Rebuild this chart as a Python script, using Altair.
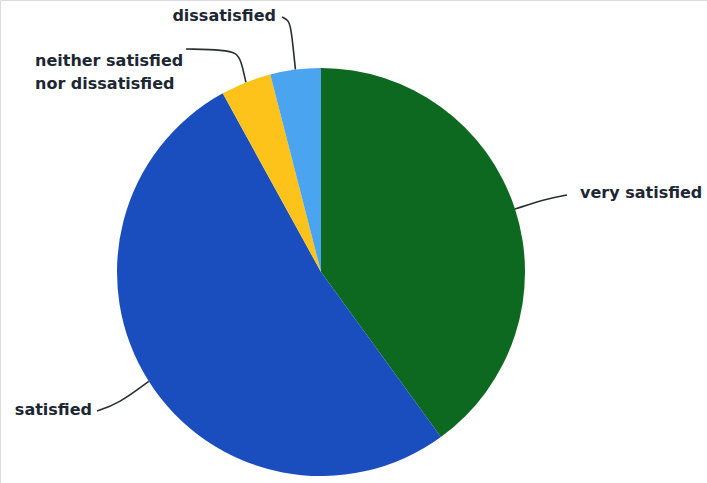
import math

import altair as alt
import pandas as pd

# Survey answers, clockwise from 12 o'clock
categories = [
    "very satisfied",
    "satisfied",
    "neither satisfied nor dissatisfied",
    "dissatisfied",
]
shares = [40, 52, 4, 4]
labels = ["very satisfied", "satisfied", "neither satisfied\nnor dissatisfied", "dissatisfied"]
colors = ["#0c691f", "#1a4dbd", "#fdc31b", "#4ba4ef"]

# Canvas and pie geometry (pixels); x/y scales below are offsets from the pie centre, y up
W, H = 707, 483
CX, CY = 321, 272
R = 204

# Label placement: (dx, dy, align) relative to the pie centre
label_layout = {
    "very satisfied": (259, 79, "left"),
    "satisfied": (-229, -138, "right"),
    "neither satisfied nor dissatisfied": (-286, 211, "left"),
    "dissatisfied": (-45, 256, "right"),
}
# Leader-line waypoints from the label end towards the slice (the rim point is computed)
leader_paths = {
    "very satisfied": [(246, 77), (229, 74)],
    "satisfied": [(-224, -139), (-203, -132)],
    "neither satisfied nor dissatisfied": [(-135, 223), (-96, 222), (-85, 219), (-80, 212)],
    "dissatisfied": [(-39, 255), (-33, 252), (-30, 246)],
}

pie_df = pd.DataFrame({"category": categories, "share": shares, "rank": range(len(categories))})

# Rim points at each slice's mid-angle, measured clockwise from the top
total = sum(shares)
rows = []
start = 0.0
for cat, val in zip(categories, shares):
    mid = (start + val / 2) / total * 2 * math.pi
    start += val
    rim = (R * math.sin(mid), R * math.cos(mid))
    pts = leader_paths[cat] + [rim]
    for i, (px, py) in enumerate(pts):
        rows.append({"category": cat, "seq": i, "px": px, "py": py})
lines_df = pd.DataFrame(rows)

text_df = pd.DataFrame(
    {
        "category": categories,
        "label": labels,
        "tx": [label_layout[c][0] for c in categories],
        "ty": [label_layout[c][1] for c in categories],
        "align": [label_layout[c][2] for c in categories],
    }
)

xscale = alt.Scale(domain=[-CX, W - CX], nice=False, zero=False)
yscale = alt.Scale(domain=[-(H - CY), CY], nice=False, zero=False)

pie = (
    alt.Chart(pie_df)
    .mark_arc(radius=R)
    .encode(
        x=alt.X(datum=0, type="quantitative", scale=xscale, axis=None),
        y=alt.Y(datum=0, type="quantitative", scale=yscale, axis=None),
        theta=alt.Theta("share:Q", stack=True),
        color=alt.Color("category:N", scale=alt.Scale(domain=categories, range=colors), legend=None),
        order=alt.Order("rank:Q"),
    )
)

leaders = (
    alt.Chart(lines_df)
    .mark_line(interpolate="basis", color="#2a2e33", strokeWidth=1.6)
    .encode(
        x=alt.X("px:Q", scale=xscale, axis=None),
        y=alt.Y("py:Q", scale=yscale, axis=None),
        detail="category:N",
        order="seq:Q",
    )
)

text_style = dict(
    font="DejaVu Sans",
    fontSize=16,
    fontWeight="bold",
    color="#1c2733",
    lineBreak="\n",
    lineHeight=23,
    baseline="middle",
)


def label_layer(align):
    return (
        alt.Chart(text_df[text_df["align"] == align])
        .mark_text(align=align, **text_style)
        .encode(
            x=alt.X("tx:Q", scale=xscale, axis=None),
            y=alt.Y("ty:Q", scale=yscale, axis=None),
            text="label:N",
        )
    )


chart = (
    alt.layer(leaders, pie, label_layer("left"), label_layer("right"))
    .properties(width=W, height=H, padding=0, autosize=alt.AutoSizeParams(type="none"))
    .configure_view(strokeWidth=0, stroke="transparent")
    .configure(background="white")
)

chart.save("out.html", embed_options={"renderer": "svg", "actions": False})
